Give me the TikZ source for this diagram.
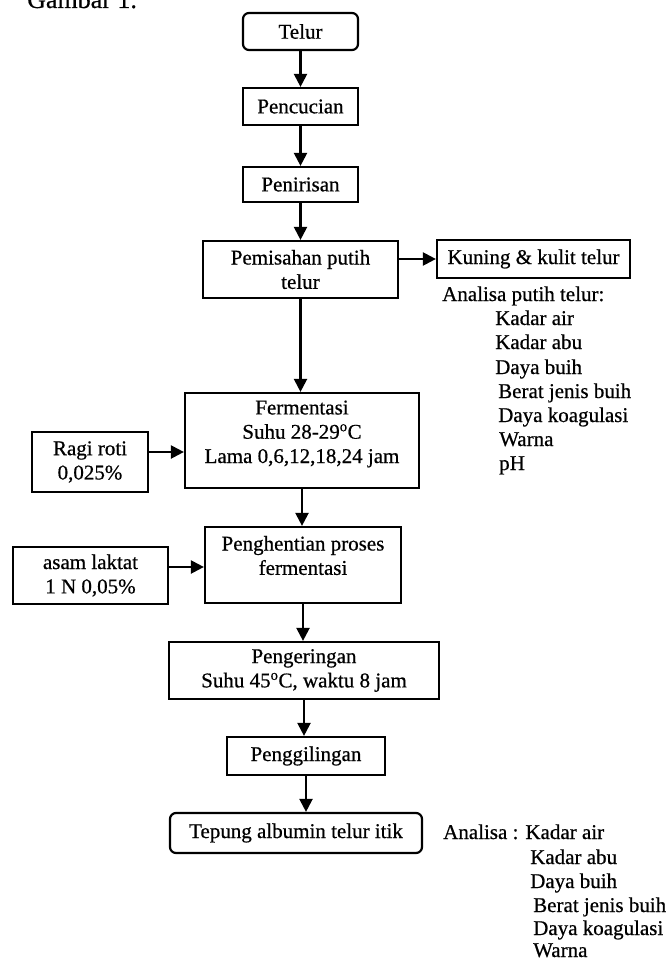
\documentclass[tikz,border=0pt]{standalone}
\usepackage{fontspec}
\setmainfont{Liberation Serif}[FakeBold=0.6]
\usetikzlibrary{arrows.meta}
\begin{document}
\begin{tikzpicture}[x=1pt,y=-1pt,
  font=\fontsize{21}{24.3}\selectfont,
  box/.style={draw, line width=2.2pt, inner sep=0pt, align=center},
  rbox/.style={box, rounded corners=6pt},
  txt/.style={inner sep=0pt, align=center},
  lst/.style={inner sep=0pt, anchor=base west},
  arr/.style={-{Triangle[length=13pt,width=13pt]}, line width=2.2pt}]
\useasboundingbox (0,0) rectangle (668,960);
\clip (0,0) rectangle (668,960);

\node[lst, font=\fontsize{26}{30}\selectfont] (judul) at (27,8) {Gambar 1.};

% main column
\node[rbox, minimum width=115pt, minimum height=37pt] (telur) at (300.5,31.5) {Telur};
\node[box, minimum width=115pt, minimum height=37pt] (cuci) at (300.5,106.5) {Pencucian};
\node[box, minimum width=115pt, minimum height=35pt] (tiris) at (300.5,184.5) {Penirisan};
\node[box, minimum width=195pt, minimum height=57pt] (pisah) at (300.5,269.5) {Pemisahan putih\\telur};
\node[box, minimum width=193pt, minimum height=38pt] (kuning) at (533.5,259) {Kuning \& kulit telur};

\node[box, minimum width=234pt, minimum height=95pt] (ferm) at (302,440.5) {};
\node[txt] (fermT) at (302,434) {Fermentasi\\Suhu 28-29\textsuperscript{o}C\\Lama 0,6,12,18,24 jam};
\node[box, minimum width=116pt, minimum height=60pt] (ragi) at (90,462) {Ragi roti\\0,025\%};

\node[box, minimum width=196pt, minimum height=76pt] (henti) at (303,565) {};
\node[txt] (hentiT) at (303,555.5) {Penghentian proses\\fermentasi};
\node[box, minimum width=155pt, minimum height=57pt] (asam) at (90.5,575.5) {asam laktat\\1 N 0,05\%};

\node[box, minimum width=270pt, minimum height=57pt] (kering) at (304,670.5) {Pengeringan\\Suhu 45\textsuperscript{o}C, waktu 8 jam};
\node[box, minimum width=158pt, minimum height=38pt] (giling) at (306,756) {Penggilingan};
\node[rbox, minimum width=252pt, minimum height=40pt] (tepung) at (296,833) {Tepung albumin telur itik};

% arrows
\draw[arr] (telur.south) -- (telur.south |- cuci.north);
\draw[arr] (cuci.south) -- (cuci.south |- tiris.north);
\draw[arr] (tiris.south) -- (tiris.south |- pisah.north);
\draw[arr] (pisah.east |- kuning.west) -- (kuning.west);
\draw[arr] (pisah.south) -- (pisah.south |- ferm.north);
\coordinate (ragiA) at (148,452);
\draw[arr] (ragi.east |- ragiA) -- (ferm.west |- ragiA);
\draw[arr] (ferm.south) -- (ferm.south |- henti.north);
\coordinate (asamA) at (168,567);
\draw[arr] (asam.east |- asamA) -- (henti.west |- asamA);
\draw[arr] (henti.south) -- (henti.south |- kering.north);
\draw[arr] (kering.south) -- (kering.south |- giling.north);
\draw[arr] (giling.south) -- (giling.south |- tepung.north);

% analysis list 1
\node[lst] (a0) at (442,301) {Analisa putih telur:};
\node[lst] (a1) at (495,325) {Kadar air};
\node[lst] (a2) at (495,349) {Kadar abu};
\node[lst] (a3) at (495,374) {Daya buih};
\node[lst] (a4) at (498,398) {Berat jenis buih};
\node[lst] (a5) at (498,422) {Daya koagulasi};
\node[lst] (a6) at (499,446) {Warna};
\node[lst] (a7) at (499,470) {pH};

% analysis list 2
\node[lst] (b0) at (443,839) {Analisa : Kadar air};
\node[lst] (b1) at (530,864) {Kadar abu};
\node[lst] (b2) at (530,888) {Daya buih};
\node[lst] (b3) at (533,912) {Berat jenis buih};
\node[lst] (b4) at (533,935) {Daya koagulasi};
\node[lst] (b5) at (533,957) {Warna};
\end{tikzpicture}
\end{document}
